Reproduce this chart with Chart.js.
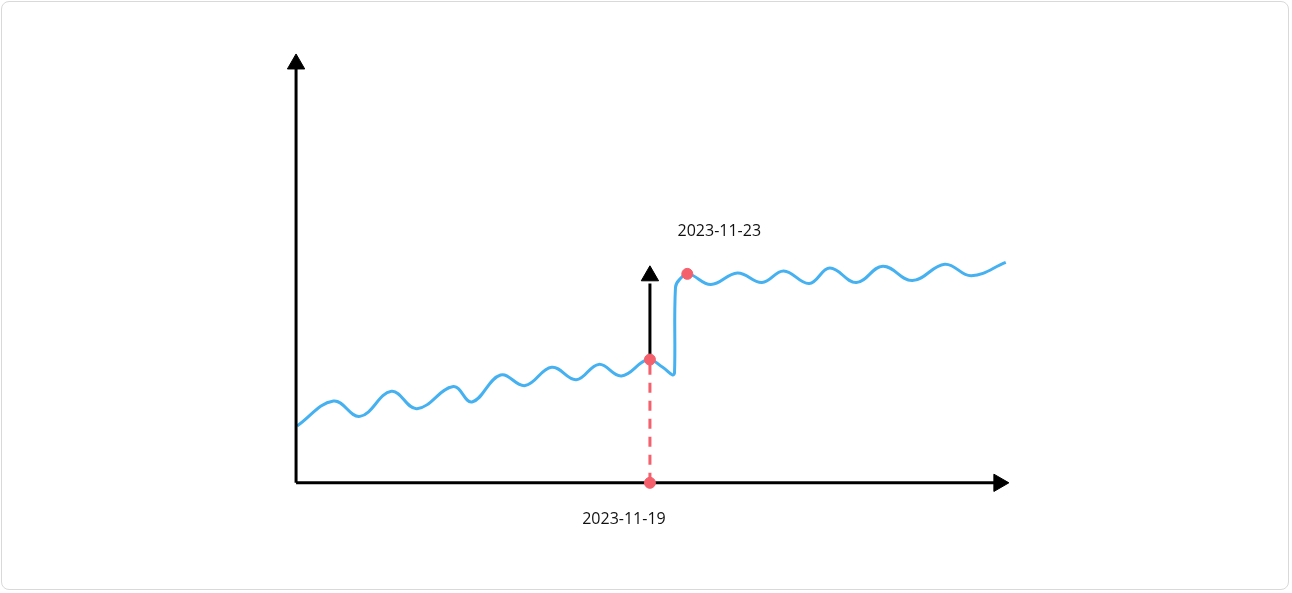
<!DOCTYPE html>
<html><head><meta charset="utf-8">
<script src="https://cdn.jsdelivr.net/npm/chart.js@4"></script>
<style>
html,body{margin:0;padding:0;background:#fff;}
#card{position:absolute;left:1px;top:1px;width:1288px;height:589px;border:1px solid #d9d9d9;border-radius:8px;box-sizing:border-box;}
#wrap{position:absolute;left:0;top:0;width:1292px;height:593px;}
</style></head><body>
<div id="card"></div>
<div id="wrap"><canvas id="c" width="1292" height="593"></canvas></div>
<script>
// series: x offset from y axis, y height above x axis
const seriesX = [1,38,65,97,123,160,179,208,233,260,285,308,331,358,373,383,385,386,390,399,422,449,474,496,522,543,570,597,627,660,687,722];
const seriesY = [59,85,69,95,77,100,84,112,101,120,107,123,111,128,120,112,114,203,211,217,206,218,208,220,207,223,208,225,210,227,215,229];
const highlightX = [360, 398];
const highlightY = [128, 217];
const highlightLabels = ['2023-11-19', '2023-11-23'];
const xAxisEnd = 715, yAxisEnd = 435, arrowX = 360, arrowTop = 215;

const line = seriesX.map((x,i)=>({x, y: seriesY[i]}));
const red = '#f5606d', blue = '#45b1f0';
new Chart(document.getElementById('c'), {
  type: 'line',
  data: { datasets: [
    {data: line, borderColor: blue, borderWidth: 3, pointRadius: 0, tension: 0.4, order: 5},
    {data: [{x:0,y:0},{x:xAxisEnd,y:0}], borderColor:'#000', borderWidth:3, pointRadius:0, order:2},
    {data: [{x:0,y:0},{x:0,y:yAxisEnd}], borderColor:'#000', borderWidth:3, pointRadius:0, order:2},
    {data: [{x:arrowX,y:highlightY[0]},{x:arrowX,y:arrowTop-8}], borderColor:'#000', borderWidth:3, pointRadius:0, order:2},
    {data: [{x:xAxisEnd,y:0}], pointStyle:'triangle', rotation:90, pointRadius:10, backgroundColor:'#000', borderColor:'#000', showLine:false, order:1},
    {data: [{x:0,y:yAxisEnd},{x:arrowX,y:arrowTop}], pointStyle:'triangle', rotation:0, pointRadius:10, backgroundColor:'#000', borderColor:'#000', showLine:false, order:1},
    {data: [{x:arrowX,y:0},{x:arrowX,y:highlightY[0]}], borderColor:red, borderWidth:3, borderDash:[10,8], pointRadius:0, order:3},
    {data: [{x:highlightX[0],y:0},{x:highlightX[0],y:highlightY[0]},{x:highlightX[1],y:highlightY[1]}], showLine:false, pointRadius:5.5, backgroundColor:red, borderColor:red, order:0}
  ]},
  options: {
    responsive:false, animation:false, devicePixelRatio:1,
    layout:{padding:0},
    plugins:{legend:{display:false}, tooltip:{enabled:false}},
    scales:{
      x:{type:'linear', min:-290, max:1002, display:false},
      y:{type:'linear', min:-103, max:490, display:false}
    }
  },
  plugins:[{id:'labels', afterDraw(ch){
    const c=ch.ctx, xs=ch.scales.x, ys=ch.scales.y;
    c.save(); c.fillStyle='#111'; c.font='16px "Open Sans"'; c.textAlign='center'; c.textBaseline='middle';
    c.fillText(highlightLabels[0], xs.getPixelForValue(highlightX[0])-26, ys.getPixelForValue(0)+37);
    c.fillText(highlightLabels[1], xs.getPixelForValue(highlightX[1])+32, ys.getPixelForValue(highlightY[1])-42);
    c.restore();
  }}]
});
</script></body></html>
